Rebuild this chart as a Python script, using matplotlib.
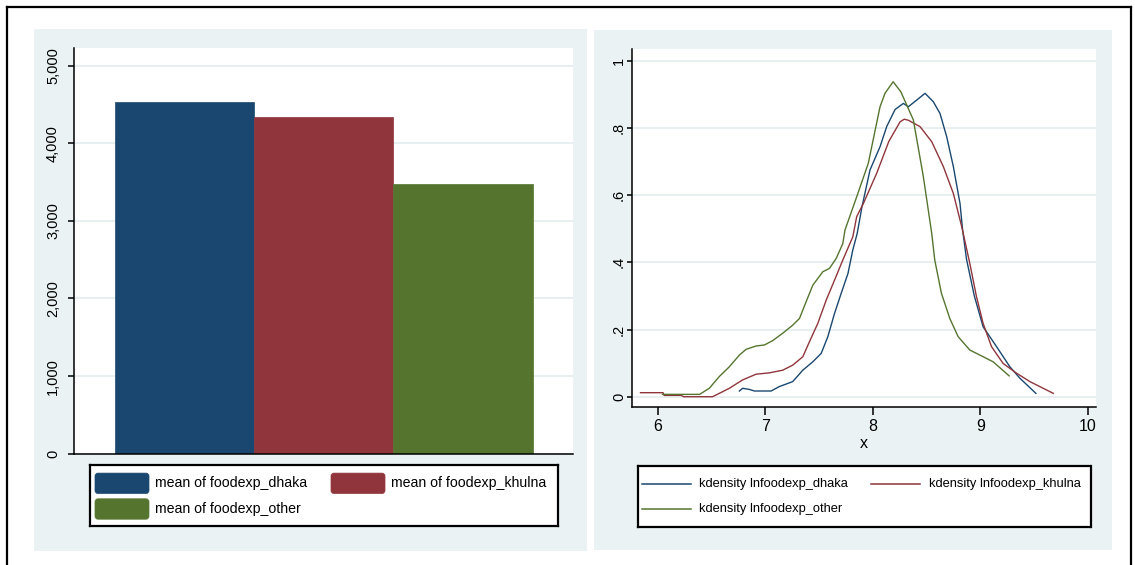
import matplotlib
matplotlib.use("Agg")
import matplotlib.pyplot as plt
from matplotlib.patches import Rectangle, FancyBboxPatch
from matplotlib.lines import Line2D

# ---------------------------------------------------------------- data
regions = ["dhaka", "khulna", "other"]
mean_foodexp = [4530, 4335, 3470]
bar_labels = ["mean of foodexp_dhaka", "mean of foodexp_khulna", "mean of foodexp_other"]
series_colors = ["#1a476f", "#90353b", "#55752f"]

bar_yticks = [0, 1000, 2000, 3000, 4000, 5000]
bar_yticklabels = ["0", "1,000", "2,000", "3,000", "4,000", "5,000"]

dhaka_x = [6.76, 6.79, 6.85, 6.90, 7.055, 7.13, 7.256, 7.35, 7.443, 7.521, 7.583, 7.645,
           7.707, 7.77, 7.815, 7.855, 7.90, 7.975, 8.068, 8.13, 8.208, 8.285, 8.331, 8.409,
           8.487, 8.564, 8.626, 8.688, 8.75, 8.812, 8.835, 8.872, 8.945, 9.027, 9.152,
           9.276, 9.369, 9.518]
dhaka_y = [0.017, 0.025, 0.022, 0.017, 0.017, 0.030, 0.045, 0.079, 0.104, 0.129, 0.179, 0.248,
           0.308, 0.367, 0.437, 0.485, 0.565, 0.675, 0.744, 0.804, 0.855, 0.873, 0.863, 0.883,
           0.903, 0.878, 0.843, 0.774, 0.685, 0.575, 0.500, 0.410, 0.300, 0.208, 0.149,
           0.089, 0.055, 0.010]

khulna_x = [5.84, 6.05, 6.06, 6.22, 6.24, 6.51, 6.573, 6.666, 6.79, 6.915, 7.039, 7.163,
            7.256, 7.35, 7.412, 7.489, 7.568, 7.645, 7.722, 7.815, 7.851, 7.913, 8.037,
            8.15, 8.254, 8.293, 8.331, 8.44, 8.549, 8.657, 8.75, 8.828, 8.903, 8.965,
            9.027, 9.105, 9.213, 9.338, 9.462, 9.586, 9.68]
khulna_y = [0.012, 0.012, 0.004, 0.004, 0.0, 0.0, 0.010, 0.025, 0.050, 0.067, 0.071, 0.079,
            0.094, 0.119, 0.164, 0.218, 0.288, 0.347, 0.407, 0.476, 0.536, 0.575, 0.665,
            0.760, 0.818, 0.826, 0.823, 0.804, 0.759, 0.685, 0.605, 0.506, 0.397, 0.298,
            0.218, 0.149, 0.099, 0.070, 0.045, 0.025, 0.010]

other_x = [6.045, 6.39, 6.48, 6.573, 6.666, 6.76, 6.822, 6.915, 6.993, 7.07, 7.163, 7.256,
           7.319, 7.381, 7.443, 7.536, 7.598, 7.661, 7.722, 7.742, 7.775, 7.851, 7.959,
           8.068, 8.114, 8.19, 8.261, 8.378, 8.471, 8.549, 8.577, 8.639, 8.717, 8.794,
           8.903, 9.027, 9.12, 9.269]
other_y = [0.007, 0.007, 0.025, 0.060, 0.089, 0.124, 0.141, 0.151, 0.154, 0.167, 0.189, 0.213,
           0.233, 0.283, 0.332, 0.372, 0.382, 0.412, 0.456, 0.496, 0.526, 0.595, 0.695,
           0.863, 0.903, 0.9375, 0.908, 0.824, 0.655, 0.486, 0.407, 0.308, 0.233, 0.179,
           0.139, 0.119, 0.104, 0.062]

kd_labels = ["kdensity lnfoodexp_dhaka", "kdensity lnfoodexp_khulna", "kdensity lnfoodexp_other"]
kd_xticks = [6, 7, 8, 9, 10]
kd_yticks = [0, 0.2, 0.4, 0.6, 0.8, 1.0]
kd_yticklabels = ["0", ".2", ".4", ".6", ".8", "1"]

# ---------------------------------------------------------------- style
plt.rcParams["font.family"] = ["Liberation Sans", "DejaVu Sans"]

PANEL_BG = "#eaf2f3"
GRID = "#e6eef0"
INK = "#000000"

W, H = 1135, 565
fig = plt.figure(figsize=(W / 100, H / 100), dpi=100)
fig.patch.set_facecolor("white")


def frect(x0, y0, x1, y1):
    """Figure-fraction rectangle from pixel corners (origin top-left)."""
    return [x0 / W, 1 - y1 / H, (x1 - x0) / W, (y1 - y0) / H]


# outer frame
for xs, ys in [((7, 7), (7, H)), ((7, 1131), (7, 7)), ((1131, 1131), (7, H))]:
    fig.add_artist(Line2D([x / W for x in xs], [1 - y / H for y in ys],
                          transform=fig.transFigure, color=INK, lw=1.6))

# graph regions
for x0, y0, x1, y1 in [(33.7, 29, 587.5, 551), (594.2, 30, 1112, 550)]:
    r = frect(x0, y0, x1, y1)
    fig.add_artist(Rectangle((r[0], r[1]), r[2], r[3], transform=fig.transFigure,
                             facecolor=PANEL_BG, edgecolor="none", zorder=0))


def style_axes(ax):
    ax.set_facecolor("white")
    for s in ("top", "right"):
        ax.spines[s].set_visible(False)
    for s in ("left", "bottom"):
        ax.spines[s].set_color(INK)
        ax.spines[s].set_linewidth(1.1)
    ax.set_axisbelow(True)
    ax.grid(axis="y", color=GRID, lw=1.3)
    ax.grid(axis="x", visible=False)


# ---------------------------------------------------------------- bar graph
ax1 = fig.add_axes(frect(74.3, 48, 573, 453.7))
style_axes(ax1)
ax1.bar(range(len(regions)), mean_foodexp, width=1.0, color=series_colors,
        edgecolor=series_colors, linewidth=0.5, zorder=2)
ax1.set_xlim(-0.79, 2.79)
ax1.set_ylim(0, 5226)
ax1.set_xticks([])
ax1.set_yticks(bar_yticks)
ax1.set_yticklabels(bar_yticklabels, rotation=90, va="center", fontsize=10.5, color=INK)
ax1.tick_params(axis="y", length=4.3, width=1.1, color=INK, pad=6)

# ---------------------------------------------------------------- density graph
ax2 = fig.add_axes(frect(632.3, 49, 1095.7, 407.3))
style_axes(ax2)
for xs, ys, c in zip([dhaka_x, khulna_x, other_x], [dhaka_y, khulna_y, other_y], series_colors):
    ax2.plot(xs, ys, color=c, lw=1.0, zorder=3)
ax2.set_xlim(5.764, 10.074)
ax2.set_ylim(-0.0315, 1.035)
ax2.set_xticks(kd_xticks)
ax2.set_xticklabels([str(t) for t in kd_xticks], fontsize=11.5, color=INK)
ax2.set_yticks(kd_yticks)
ax2.set_yticklabels(kd_yticklabels, rotation=90, va="center", fontsize=10.5, color=INK)
ax2.tick_params(axis="y", length=3.6, width=1.1, color=INK, pad=1)
ax2.tick_params(axis="x", length=5.5, width=1.1, color=INK, pad=3.2)
ax2.set_xlabel("x", fontsize=11.5, color=INK, va="center")
ax2.xaxis.set_label_coords(0.5, -(443 - 407.3) / (407.3 - 49))


# ---------------------------------------------------------------- legends
def legend_box(x0, y0, x1, y1):
    lax = fig.add_axes(frect(x0, y0, x1, y1))
    lax.set_xlim(x0, x1)
    lax.set_ylim(y1, y0)
    lax.set_xticks([])
    lax.set_yticks([])
    lax.set_facecolor("white")
    for s in lax.spines.values():
        s.set_color(INK)
        s.set_linewidth(1.6)
    return lax


# slots: (column, row) of each entry in a two-column legend
slots = [(0, 0), (1, 0), (0, 1)]

lax1 = legend_box(89.6, 465, 557.6, 526)
col_x1 = [95, 331]
row_y1 = [483.3, 509]
for (ci, ri), lab, c in zip(slots, bar_labels, series_colors):
    lax1.add_patch(FancyBboxPatch((col_x1[ci], row_y1[ri] - 10.2), 54, 20.4,
                                  boxstyle="round,pad=0,rounding_size=3",
                                  facecolor=c, edgecolor=c, lw=0.5))
    lax1.text(col_x1[ci] + 60, row_y1[ri], lab, va="center", ha="left",
              fontsize=10.2, color=INK)

lax2 = legend_box(637.6, 466, 1090.5, 526.7)
col_x2 = [642.1, 871.5]
row_y2 = [484, 509.3]
for (ci, ri), lab, c in zip(slots, kd_labels, series_colors):
    lax2.add_line(Line2D([col_x2[ci], col_x2[ci] + 48.5], [row_y2[ri], row_y2[ri]],
                         color=c, lw=1.1))
    lax2.text(col_x2[ci] + 57.4, row_y2[ri], lab, va="center", ha="left",
              fontsize=9.3, color=INK)

fig.savefig("out.png", dpi=100, facecolor="white")
